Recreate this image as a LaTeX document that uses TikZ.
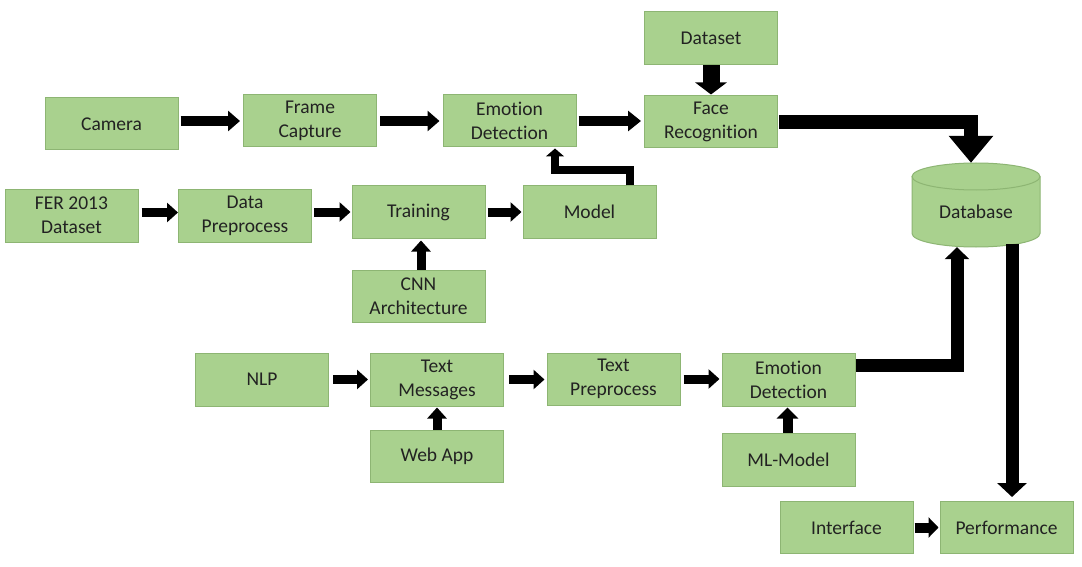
\documentclass[tikz,border=0pt]{standalone}
\usepackage{fontspec}
\setmainfont[Ligatures=NoCommon]{Carlito}
\usetikzlibrary{arrows.meta}
\definecolor{boxfill}{HTML}{A9D18E}
\definecolor{boxline}{HTML}{8DB573}
\definecolor{txtc}{HTML}{222222}
\tikzset{
  blk/.style={draw=boxline, fill=boxfill, line width=1pt, minimum width=133pt, minimum height=52pt,
    inner sep=0pt, align=center, text=txtc, font=\fontsize{19.5}{24}\selectfont},
  ar/.style n args={3}{draw=black, line width=#1, line join=miter,
    -{Triangle[length=#3, width=#2]}},
}
\begin{document}
\begin{tikzpicture}[x=1pt, y=-1pt]
\useasboundingbox[fill=white] (0,0) rectangle (1082,567);
% top row
\node[blk] (cam) at (111.5,124) {Camera};
\node[blk] (frame) at (310,121) {Frame\\Capture};
\node[blk] (emotop) at (509.5,121) {Emotion\\Detection};
\node[blk] (face) at (711,122) {Face\\Recognition};
\node[blk, minimum height=53pt] (dset) at (711,38.5) {Dataset};
% second row
\node[blk, minimum height=53pt] (fer) at (71.5,215.5) {FER 2013\\Dataset};
\node[blk, minimum height=53pt] (dpre) at (245,215.5) {Data\\Preprocess};
\node[blk] (train) at (418.5,212) {Training};
\node[blk] (model) at (589.5,212) {Model};
\node[blk] (cnn) at (418.5,296) {CNN\\Architecture};
% database
\fill[boxfill] (912,176.5) -- (912,233.5)
  arc[start angle=180, end angle=0, x radius=64, y radius=13.5]
  -- (1040,176.5) arc[start angle=0, end angle=-180, x radius=64, y radius=13.5] -- cycle;
\draw[boxline, line width=1pt] (912,176.5) -- (912,233.5)
  arc[start angle=180, end angle=0, x radius=64, y radius=13.5] -- (1040,176.5);
\draw[boxline, line width=1pt] (976,176.5) ellipse[x radius=64, y radius=13.5];
\node[minimum width=128pt, minimum height=84pt, inner sep=0pt] (db) at (976,205) {};
\node[text=txtc, font=\fontsize{19.5}{24}\selectfont] (dbl) at ([yshift=-7pt]db.center) {Database};
% bottom part
\node[blk, minimum height=53pt] (nlp) at (262,379.5) {NLP};
\node[blk, minimum height=53pt] (txt) at (437,379.5) {Text\\Messages};
\node[blk] (web) at (437,456) {Web App};
\node[blk] (tpre) at (613.5,379) {Text\\Preprocess};
\node[blk, minimum height=53pt] (emobot) at (788.5,379.5) {Emotion\\Detection};
\node[blk, minimum height=53pt] (ml) at (788.5,459.5) {ML-Model};
\node[blk, minimum height=52pt] (intf) at (846.5,527.5) {Interface};
\node[blk, minimum height=52pt] (perf) at (1006.5,527.5) {Performance};
% arrows top row
\draw[ar={10pt}{20pt}{12pt}] ([xshift=2pt]cam.east |- frame.west) -- ([xshift=-3pt]frame.west);
\draw[ar={10pt}{20pt}{12pt}] ([xshift=3pt]frame.east) -- ([xshift=-3pt]emotop.west);
\draw[ar={10pt}{20pt}{13pt}] ([xshift=2pt]emotop.east) -- ([xshift=-3pt]face.west |- emotop.east);
\draw[ar={17pt}{31pt}{12pt}] (dset.south) -- ([yshift=1pt]face.north);
\draw[ar={14pt}{43pt}{27pt}] ([xshift=1pt]face.east) -| ([xshift=-5pt]db.north);
\draw[ar={8pt}{18pt}{8pt}] ([xshift=40.5pt]model.north) -- ++(0,-15) -| ([xshift=45.5pt,yshift=-1pt]emotop.south);
% arrows second row
\draw[ar={9pt}{19pt}{11pt}] ([xshift=3pt,yshift=3pt]fer.east) -- ([yshift=3pt]dpre.west);
\draw[ar={9pt}{19pt}{11pt}] ([xshift=2pt]dpre.east |- train.west) -- ([xshift=-1pt]train.west);
\draw[ar={9pt}{19pt}{11pt}] ([xshift=2pt]train.east) -- ([xshift=-1pt]model.west);
\draw[ar={9pt}{19pt}{11pt}] ([xshift=2.5pt]cnn.north) -- ([xshift=2.5pt,yshift=-2pt]train.south);
% arrows bottom
\draw[ar={9pt}{19pt}{11pt}] ([xshift=4pt]nlp.east) -- ([xshift=-2pt]txt.west);
\draw[ar={9pt}{19pt}{11pt}] (web.north) -- ([yshift=-1pt]txt.south);
\draw[ar={9pt}{19pt}{11pt}] ([xshift=5pt]txt.east) -- ([xshift=-2pt]tpre.west |- txt.east);
\draw[ar={9pt}{19pt}{11pt}] ([xshift=3pt]tpre.east) -- ([xshift=-2pt]emobot.west |- tpre.east);
\draw[ar={10pt}{21pt}{11pt}] ([xshift=-1pt]ml.north) -- ([xshift=-1pt,yshift=-1pt]emobot.south);
\draw[ar={13pt}{24pt}{12pt}] ([yshift=14.5pt]emobot.east) -| ([xshift=-19pt]db.south);
\draw[ar={13pt}{29pt}{14pt}] ([xshift=36pt,yshift=3pt]db.south) -- ([xshift=5.5pt,yshift=4pt]perf.north);
\draw[ar={10pt}{20pt}{10pt}] ([xshift=1pt]intf.east) -- ([xshift=-1pt]perf.west);
\end{tikzpicture}
\end{document}
